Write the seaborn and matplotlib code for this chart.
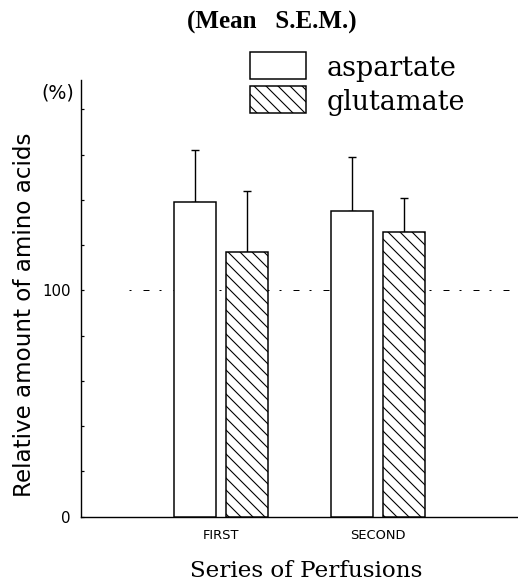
import numpy as np
import pandas as pd
import matplotlib
matplotlib.use("Agg")
import matplotlib.pyplot as plt
from matplotlib.patches import Patch
import seaborn as sns

# ---- data ----
series = ["FIRST", "SECOND"]
amino_acids = ["aspartate", "glutamate"]
aspartate_mean = [139, 135]
glutamate_mean = [117, 126]
aspartate_sem = [23, 24]
glutamate_sem = [27, 15]
reference_level = 100
y_ticks = [0, 20, 40, 60, 80, 100, 120, 140, 160, 180]
y_ticklabels = ["0", "", "", "", "", "100", "", "", "", ""]

df = pd.DataFrame({
    "series": series * 2,
    "amino": [amino_acids[0]] * 2 + [amino_acids[1]] * 2,
    "value": aspartate_mean + glutamate_mean,
})
sems = [aspartate_sem, glutamate_sem]

sns.set_style("ticks")
plt.rcParams["font.family"] = ["DejaVu Sans"]
plt.rcParams["hatch.linewidth"] = 1.1
plt.rcParams["text.color"] = "black"
plt.rcParams["xtick.color"] = "black"
plt.rcParams["ytick.color"] = "black"
plt.rcParams["axes.labelcolor"] = "black"
plt.rcParams["axes.edgecolor"] = "black"

DPI = 72
fig = plt.figure(figsize=(518 / DPI, 585 / DPI), dpi=DPI)
ax = fig.add_axes([81 / 518, 1 - 516.7 / 585, (518 - 81) / 518, (516.7 - 80) / 585])

sns.barplot(data=df, x="series", y="value", hue="amino", hue_order=amino_acids,
            order=series, palette={"aspartate": "white", "glutamate": "white"},
            edgecolor="black", linewidth=1.5, width=0.66, gap=0.2,
            errorbar=None, legend=False, ax=ax, zorder=3)

hatches = ["", "\\\\"]
for cont, h, s in zip(ax.containers, hatches, sems):
    xs, hs = [], []
    for p in cont.patches:
        p.set_hatch(h)
        p.set_edgecolor("black")
        xs.append(p.get_x() + p.get_width() / 2)
        hs.append(p.get_height())
    ax.errorbar(xs, hs, yerr=[np.zeros(len(s)), s], fmt="none", ecolor="black",
                elinewidth=1.4, capsize=4, capthick=1.4, zorder=2)

ax.axhline(reference_level, xmin=0.11, xmax=1.0, color="black", lw=1.0,
           linestyle=(0, (2, 12, 6, 10)), zorder=1)

ax.set_xlim(-0.89, 1.89)
ax.set_ylim(0, 193)
ax.set_yticks(y_ticks)
ax.set_yticklabels(y_ticklabels, fontsize=15)
ax.tick_params(axis="y", direction="in", length=3, width=1.2, pad=10)
ax.tick_params(axis="x", length=0, pad=12, labelsize=13)
for sp in ["top", "right"]:
    ax.spines[sp].set_visible(False)
ax.spines["left"].set_linewidth(1.4)
ax.spines["bottom"].set_linewidth(1.4)
ax.set_xlabel("Series of Perfusions", family="DejaVu Serif", fontsize=23, labelpad=20)
ax.xaxis.set_label_coords((306 - 81) / 437, -0.1)
ax.set_ylabel("")

fig.text(25 / 518, 1 - 315 / 585, "Relative amount of amino acids", rotation=90,
         ha="center", va="center", fontsize=23)
fig.text(58 / 518, 1 - 93 / 585, "(%)", ha="center", va="center", fontsize=19)
fig.text(272 / 518, 1 - 22 / 585, "(Mean   S.E.M.)", ha="center", va="center",
         fontsize=25, fontweight="bold", family="Liberation Serif")

handles = [Patch(facecolor="white", edgecolor="black", linewidth=1.5, hatch=h)
           for h in hatches]
fig.legend(handles, amino_acids, loc="upper left",
           bbox_to_anchor=(250 / 518, 1 - 54.5 / 585), frameon=False,
           prop={"family": "DejaVu Serif", "size": 27}, borderpad=0,
           handlelength=2.07, handleheight=1.0, handletextpad=0.75,
           labelspacing=0.25, borderaxespad=0)
for hp in fig.legends[0].legend_handles:
    hp.set_height(hp.get_height() * 1.12)

fig.savefig("out.png", dpi=DPI)
